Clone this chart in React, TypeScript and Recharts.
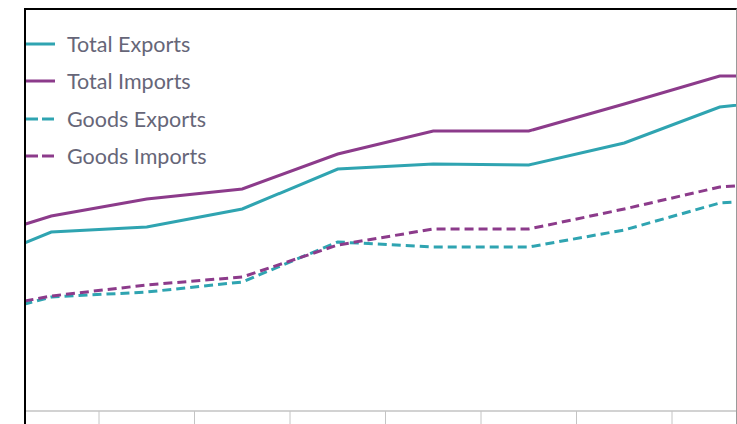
import { Legend, Line, LineChart, XAxis, YAxis } from 'recharts'

// periods (the visible window is cropped on both sides, first and last are partly off-screen)
const periods = ['P0', 'P1', 'P2', 'P3', 'P4', 'P5', 'P6', 'P7', 'P8', 'P9']
const totalExports = [35, 44.75, 46, 50.5, 60.5, 61.75, 61.5, 67, 76, 78.5]
const totalImports = [41.25, 48.75, 53, 55.5, 64.25, 70, 70, 76.75, 83.75, 83.75]
const goodsExports = [22.25, 28.5, 29.75, 32.25, 42.25, 41, 41, 45.25, 52, 53.5]
const goodsImports = [24.25, 28.75, 31.5, 33.5, 41.5, 45.5, 45.5, 50.5, 56, 57.5]

const TEAL = '#2fa4b1'
const PURPLE = '#8c3b8b'

const series = [
  { key: 'totalExports', name: 'Total Exports', color: TEAL, dashed: false },
  { key: 'totalImports', name: 'Total Imports', color: PURPLE, dashed: false },
  { key: 'goodsExports', name: 'Goods Exports', color: TEAL, dashed: true },
  { key: 'goodsImports', name: 'Goods Imports', color: PURPLE, dashed: true },
]

const data = periods.map((p, i) => ({
  period: p,
  pos: i,
  totalExports: totalExports[i],
  totalImports: totalImports[i],
  goodsExports: goodsExports[i],
  goodsImports: goodsImports[i],
}))

// ticks sit on the boundaries between periods
const boundaryTicks = periods.slice(1).map((_, i) => i + 0.5)

function LegendBox() {
  return (
    <div style={{ fontFamily: 'Lato, sans-serif', fontSize: 21.5, color: '#666678' }}>
      {series.map((s) => (
        <div key={s.key} style={{ display: 'flex', alignItems: 'center', height: 37.5 }}>
          <svg width={33} height={6} style={{ marginRight: 12 }}>
            {s.dashed ? (
              <>
                <line x1={3} y1={3} x2={16} y2={3} stroke={s.color} strokeWidth={3} />
                <line x1={20} y1={3} x2={32} y2={3} stroke={s.color} strokeWidth={3} />
              </>
            ) : (
              <line x1={0} y1={3} x2={33} y2={3} stroke={s.color} strokeWidth={3} />
            )}
          </svg>
          <span>{s.name}</span>
        </div>
      ))}
    </div>
  )
}

export default function App() {
  return (
    <div
      style={{
        position: 'fixed',
        left: 24,
        top: 8,
        width: 713,
        height: 416,
        boxSizing: 'border-box',
        borderTop: '2px solid #000',
        borderLeft: '2px solid #000',
        borderRight: '1px solid #9a9a9a',
        overflow: 'hidden',
        background: '#fff',
      }}
    >
      <div style={{ position: 'absolute', left: -118, top: 1 }}>
        <LineChart width={955} height={414} data={data} margin={{ top: 0, right: 0, bottom: 0, left: 0 }}>
          <XAxis
            type="number"
            dataKey="pos"
            domain={[-0.5, 9.5]}
            ticks={boundaryTicks}
            tickFormatter={() => ''}
            height={14}
            tickSize={13}
            tickLine={{ stroke: '#c4c4c4' }}
            axisLine={{ stroke: '#d2d2d2', strokeWidth: 2 }}
          />
          <YAxis hide domain={[0, 100]} />
          <Legend
            layout="vertical"
            align="center"
            verticalAlign="middle"
            content={() => <LegendBox />}
            wrapperStyle={{ left: 114, top: 14, width: 260 }}
          />
          {series.map((s) => (
            <Line
              key={s.key}
              dataKey={s.key}
              name={s.name}
              stroke={s.color}
              strokeWidth={3}
              strokeDasharray={s.dashed ? '9 5' : undefined}
              dot={false}
              type="linear"
              isAnimationActive={false}
            />
          ))}
        </LineChart>
      </div>
    </div>
  )
}
